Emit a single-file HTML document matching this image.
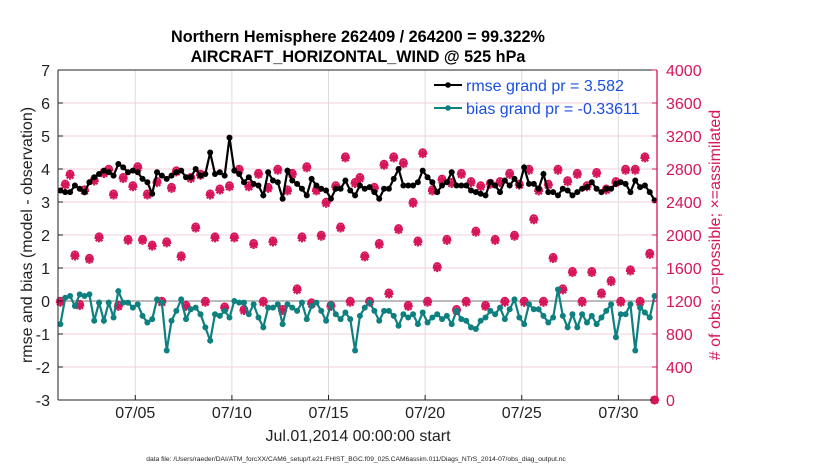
<!DOCTYPE html>
<html><head><meta charset="utf-8"><style>
body{margin:0;background:#fff;width:830px;height:470px;overflow:hidden;font-family:"Liberation Sans",Arial,sans-serif}
svg text{font-family:"Liberation Sans",Arial,sans-serif}
</style></head><body>
<svg id="c" width="830" height="470" xmlns="http://www.w3.org/2000/svg"></svg>
<script>
const rmse=[3.35,3.3,3.3,3.5,3.4,3.3,3.6,3.75,3.85,3.95,3.9,3.8,4.15,4.05,3.9,3.95,3.9,3.7,3.6,3.25,3.9,3.8,3.7,3.8,3.9,3.95,3.75,3.75,4.0,3.8,3.85,4.5,3.85,3.9,3.8,4.95,3.95,3.85,3.6,3.75,3.55,3.5,3.2,3.9,3.65,3.6,3.1,3.95,3.65,3.55,3.4,3.2,3.7,3.5,3.4,3.35,3.1,3.4,3.4,3.65,3.35,3.2,3.5,3.4,3.45,3.3,3.1,3.4,3.4,3.7,4.0,3.5,3.5,3.5,3.6,3.95,3.75,3.6,3.3,3.5,3.6,3.9,3.5,3.5,3.5,3.35,3.3,3.25,3.2,3.6,3.5,3.3,3.65,3.5,3.7,3.5,4.05,3.55,3.55,3.4,3.85,3.3,3.3,3.2,3.4,3.35,3.2,3.3,3.4,3.45,3.6,3.4,3.3,3.4,3.4,3.55,3.6,3.55,3.3,3.65,3.45,3.5,3.3,3.05];
const bias=[-0.7,0.1,0.15,-0.15,0.2,0.15,0.2,-0.6,-0.05,-0.6,-0.05,-0.5,0.3,-0.05,-0.05,-0.2,-0.1,-0.45,-0.65,-0.55,0.05,-0.05,-1.5,-0.6,-0.3,0.05,-0.55,-0.25,-0.2,-0.4,-0.8,-1.2,-0.4,-0.45,-0.3,-0.5,0.0,-0.05,-0.05,-0.4,-0.1,-0.5,-0.8,-0.2,-0.2,-0.1,-0.7,-0.1,-0.2,-0.3,-0.05,-0.55,-0.15,-0.05,-0.3,-0.6,-0.1,-0.4,-0.55,-0.35,-0.55,-1.5,-0.45,-0.2,-0.05,-0.3,-0.6,-0.3,-0.3,-0.45,-0.75,-0.4,-0.5,-0.4,-0.7,-0.35,-0.65,-0.5,-0.4,-0.55,-0.45,-0.7,-0.3,-0.55,-0.6,-0.8,-0.85,-0.6,-0.5,-0.3,-0.4,-0.2,-0.55,-0.25,0.05,-0.5,-0.7,-0.1,-0.25,-0.25,-0.45,-0.65,-0.5,0.35,-0.45,-0.8,-0.4,-0.8,-0.4,-0.65,-0.45,-0.7,-0.5,-0.3,-0.1,-1.1,-0.4,-0.4,-0.1,-1.5,-0.2,-0.35,-0.5,0.15];
const possible=[1200,2620,2740,1760,1160,2550,1720,2670,1980,2760,2800,2500,1150,2700,1950,2600,2830,1950,2500,1880,2650,1200,1920,2580,2780,1750,1150,2700,2100,2740,1200,2500,1980,2560,1130,2600,1980,2800,1100,2600,1900,2750,1200,2580,1930,2800,1100,2550,2750,1350,1980,2830,1180,2550,2000,2400,1150,2600,2100,2950,1200,2640,2700,1750,1200,2580,1900,2860,1300,2950,2080,2880,1150,2400,1930,3000,1200,2550,1620,2680,1950,2640,1100,2750,1200,2650,2050,2600,1150,2630,1950,2650,1200,2750,2000,2620,1200,2800,2200,2550,1200,2620,1730,2800,1350,2660,1560,2750,1200,2600,1560,2760,1300,2560,1450,2650,1200,2800,1580,2800,1200,2950,1780,0];
const assimilated=possible.map(v=>v>0?v-15:0);
const xTicks=[4,9,14,19,24,29];
const xLabels=["07/05","07/10","07/15","07/20","07/25","07/30"];
const yTicks=[-3,-2,-1,0,1,2,3,4,5,6,7];
const rTicks=[0,400,800,1200,1600,2000,2400,2800,3200,3600,4000];

const NS="http://www.w3.org/2000/svg",svg=document.getElementById('c');
const L=58,R=657,T=70,B=400;
const xs=d=>L+(d/31)*(R-L);
const ys=v=>B-(v+3)/10*(B-T);
const yr=v=>B-v/4000*(B-T);
function el(t,a,p){const e=document.createElementNS(NS,t);for(const k in a)e.setAttribute(k,a[k]);(p||svg).appendChild(e);return e;}
function tx(s,a,p){const e=el('text',a,p);e.textContent=s;return e;}

let g;
g=el('g',{});
rTicks.forEach(v=>el('line',{x1:L,x2:R,y1:yr(v),y2:yr(v),stroke:'#f3cfdc','stroke-width':1},g));
xTicks.forEach(d=>el('line',{x1:xs(d),x2:xs(d),y1:T,y2:B,stroke:'#dcdcdc','stroke-width':1},g));
let zl=el('line',{x1:L,x2:R,y1:ys(0),y2:ys(0),stroke:'#bbb','stroke-width':2});


g=el('g',{});
possible.forEach((v,i)=>{const x=xs(i*0.25+0.125),y=yr(v);
 const c=el('circle',{cx:x,cy:y,r:3.5,fill:'none',stroke:'#d6155a','stroke-width':1.5},g);
 });
assimilated.forEach((v,i)=>{const x=xs(i*0.25+0.125),y=yr(v);
 const p=el('path',{d:`M${x-4.5} ${y}L${x+4.5} ${y}M${x} ${y-4.5}L${x} ${y+4.5}M${x-3.3} ${y-3.3}L${x+3.3} ${y+3.3}M${x-3.3} ${y+3.3}L${x+3.3} ${y-3.3}`,stroke:'#d6155a','stroke-width':2.2},g);
 });

function series(arr,col,name){
 const gg=el('g',{});
 el('polyline',{points:arr.map((v,i)=>xs(i*0.25+0.125)+','+ys(v)).join(' '),fill:'none',stroke:col,'stroke-width':2.2},gg);
 arr.forEach((v,i)=>{const c=el('circle',{cx:xs(i*0.25+0.125),cy:ys(v),r:3,fill:col},gg);
  });
}
series(rmse,'#000','rmse-line');
series(bias,'#0f8080','bias-line');

el('line',{x1:L,x2:L,y1:T,y2:B,stroke:'#222'});
el('line',{x1:L,x2:R,y1:B,y2:B,stroke:'#222'});
el('line',{x1:L,x2:R,y1:T,y2:T,stroke:'#222'});
el('line',{x1:R,x2:R,y1:T,y2:B,stroke:'#d6155a','stroke-width':1.3});
yTicks.forEach(v=>{el('line',{x1:L,x2:L+5,y1:ys(v),y2:ys(v),stroke:'#222'});
 const t=tx(String(v),{x:L-8,y:ys(v)+6,'text-anchor':'end','font-size':16,fill:'#222'});
 });
rTicks.forEach(v=>{el('line',{x1:R-5,x2:R,y1:yr(v),y2:yr(v),stroke:'#d6155a'});
 const t=tx(String(v),{x:R+9,y:yr(v)+6,'font-size':16,fill:'#d6155a'});
 });
xTicks.forEach((d,i)=>{el('line',{x1:xs(d),x2:xs(d),y1:B,y2:B-5,stroke:'#222'});
 const t=tx(xLabels[i],{x:xs(d),y:B+18,'text-anchor':'middle','font-size':16,fill:'#222'});
 });

let t;
t=tx('Northern Hemisphere 262409 / 264200 = 99.322%',{x:358,y:42,'text-anchor':'middle','font-size':16.2,'font-weight':'bold'});
t=tx('AIRCRAFT_HORIZONTAL_WIND @ 525 hPa',{x:358,y:62,'text-anchor':'middle','font-size':16.2,'font-weight':'bold'});
t=tx('rmse and bias (model - observation)',{x:0,y:0,'text-anchor':'middle','font-size':16,fill:'#222',transform:'translate(32,235) rotate(-90)'});
t=tx('# of obs: o=possible; \u00d7=assimilated',{x:0,y:0,'text-anchor':'middle','font-size':16,fill:'#d6155a',transform:'translate(720,235) rotate(-90)'});
t=tx('Jul.01,2014 00:00:00 start',{x:358,y:441,'text-anchor':'middle','font-size':16,fill:'#222'});
t=tx('data file: /Users/raeder/DAI/ATM_forcXX/CAM6_setup/f.e21.FHIST_BGC.f09_025.CAM6assim.011/Diags_NTrS_2014-07/obs_diag_output.nc',{x:356,y:461,'text-anchor':'middle','font-size':6.7,fill:'#222'});

g=el('g',{});
el('line',{x1:434,x2:462,y1:85,y2:85,stroke:'#000','stroke-width':2},g);el('circle',{cx:448,cy:85,r:2.8,fill:'#000'},g);
el('line',{x1:434,x2:462,y1:108,y2:108,stroke:'#0f8080','stroke-width':2},g);el('circle',{cx:448,cy:108,r:2.8,fill:'#0f8080'},g);
t=tx('rmse grand pr = 3.582',{x:466,y:91,'font-size':16,fill:'#1a4fe0'},g);
t=tx('bias grand pr = -0.33611',{x:466,y:114,'font-size':16,fill:'#1a4fe0'},g);
</script>
</body></html>
